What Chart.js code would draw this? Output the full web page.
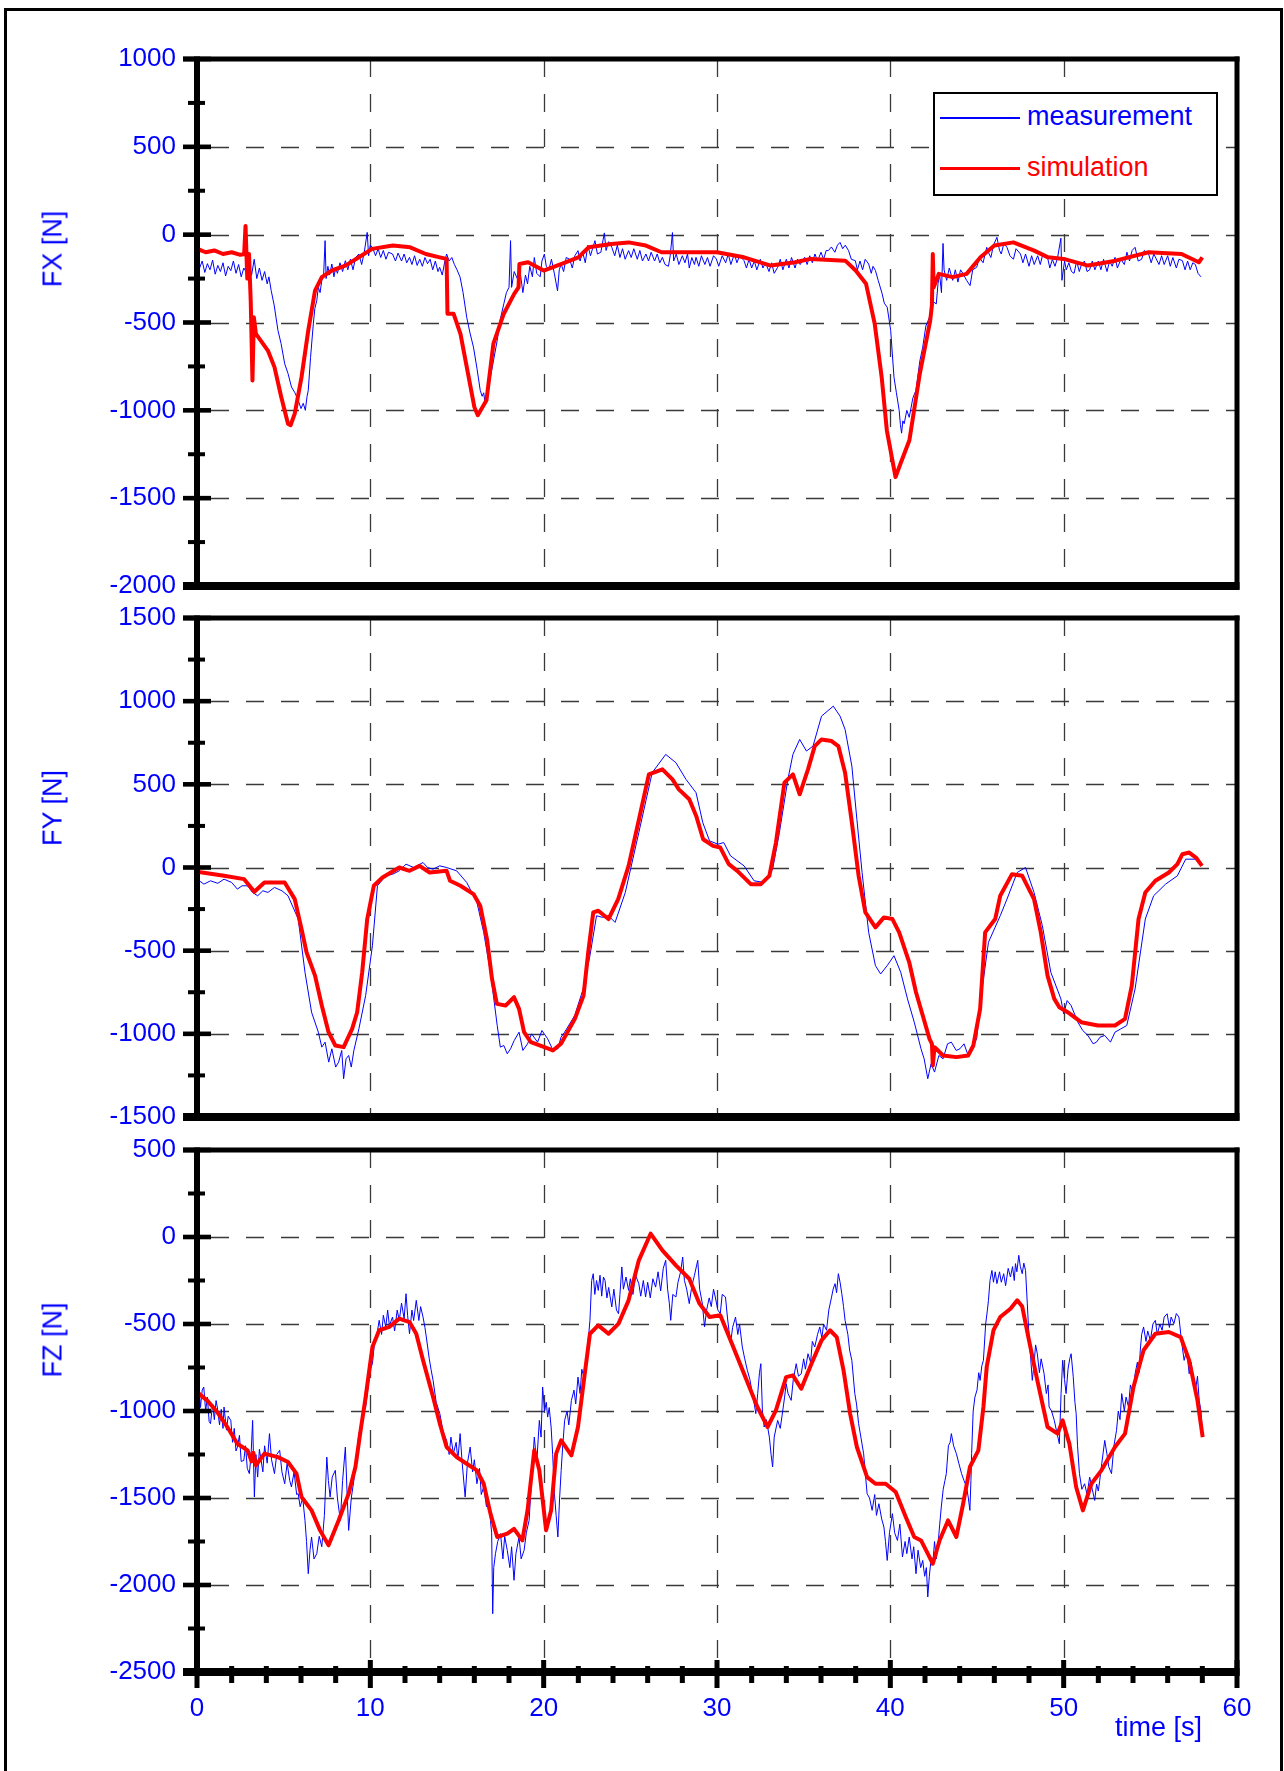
<!DOCTYPE html>
<html>
<head>
<meta charset="utf-8">
<script src="https://cdn.jsdelivr.net/npm/chart.js@4.4.0/dist/chart.umd.min.js"></script>
<style>
  body { margin: 0; background: #fff; width: 1284px; height: 1771px; overflow: hidden; position: relative;
         font-family: 'Liberation Sans', Arial, sans-serif; }
  #frame { position: absolute; left: 4px; top: 8px; width: 1273px; height: 1800px; border: 3px solid #000; }
  canvas { position: absolute; left: 0; }
  .ytitle { position: absolute; color: #00f; font-size: 27px; white-space: nowrap;
            transform: translate(-50%, -50%) rotate(-90deg); }
  #xtitle { position: absolute; left: 1115px; top: 1712px; color: #00f; font-size: 27px; white-space: nowrap; }
  #legend { position: absolute; left: 933px; top: 92px; width: 281px; height: 100px; border: 2px solid #000; background: #fff; }
  #legend .sw { position: absolute; left: 5px; width: 80px; }
  #legend .lbl { position: absolute; left: 92px; font-size: 27px; line-height: 30px; white-space: nowrap; }
</style>
</head>
<body>
<div id="frame"></div>
<canvas id="fx" width="1284" height="607" style="top:19px"></canvas>
<canvas id="fy" width="1284" height="579" style="top:578px"></canvas>
<canvas id="fz" width="1284" height="661" style="top:1110px"></canvas>
<div class="ytitle" style="left:53px;top:249px">FX [N]</div>
<div class="ytitle" style="left:53px;top:808px">FY [N]</div>
<div class="ytitle" style="left:53px;top:1340px">FZ [N]</div>
<div id="xtitle">time [s]</div>
<div id="legend">
  <div class="sw" style="top:23px;height:1.5px;background:#00f"></div>
  <div class="lbl" style="top:7px;color:#00f">measurement</div>
  <div class="sw" style="top:73px;height:3px;background:#f00"></div>
  <div class="lbl" style="top:58px;color:#f00">simulation</div>
</div>
<script>
// tiempo [s], fuerza [N]
const timeTicks = [0, 10, 20, 30, 40, 50, 60];
const minorTimeStep = 2;

const fxMeas = [
  [0,-130],[0.15,-190],[0.3,-150],[0.45,-215],[0.6,-165],[0.75,-200],[0.9,-145],[1.05,-225],[1.2,-175],[1.35,-210],
  [1.5,-160],[1.65,-235],[1.8,-180],[1.95,-205],[2.1,-150],[2.25,-220],[2.4,-170],[2.55,-240],[2.7,-190],[2.85,-215],
  [3.0,-160],[3.15,-230],[3.3,-140],[3.45,-250],[3.6,-190],[3.75,-260],[3.9,-210],[4.05,-280],[4.15,-240],[4.28,-318],
  [4.45,-400],[4.67,-545],[4.85,-620],[5.06,-735],[5.25,-790],[5.45,-867],[5.65,-900],[5.84,-943],[6.0,-990],[6.13,-960],
  [6.25,-1000],[6.35,-920],[6.42,-886],[6.55,-700],[6.71,-508],[6.8,-420],[6.91,-375],[7.0,-300],[7.1,-330],[7.2,-260],
  [7.3,-242],[7.39,-34],[7.45,-250],[7.55,-180],[7.65,-230],[7.78,-167],[7.9,-240],[8.0,-190],[8.1,-220],[8.25,-160],
  [8.4,-210],[8.56,-148],[8.7,-200],[8.85,-140],[9.0,-200],[9.15,-130],[9.34,-110],[9.5,-170],[9.65,-100],[9.82,13],
  [9.9,-120],[10.0,-60],[10.12,-72],[10.3,-120],[10.45,-80],[10.6,-130],[10.75,-90],[10.9,-140],[11.05,-100],[11.28,-110],
  [11.45,-150],[11.6,-105],[11.8,-150],[11.95,-110],[12.1,-160],[12.26,-129],[12.4,-170],[12.55,-120],[12.7,-175],[12.85,-140],
  [13.0,-180],[13.15,-130],[13.3,-165],[13.45,-140],[13.6,-200],[13.75,-150],[13.9,-210],[14.0,-186],[14.15,-230],[14.3,-150],
  [14.4,-110],[14.55,-150],[14.7,-130],[14.85,-170],[15.0,-200],[15.18,-242],[15.35,-330],[15.56,-470],[15.75,-560],[15.95,-640],
  [16.15,-760],[16.34,-886],[16.45,-920],[16.54,-900],[16.62,-960],[16.7,-943],[16.8,-900],[16.93,-811],[17.1,-720],[17.32,-602],
  [17.5,-480],[17.7,-394],[17.85,-330],[18.0,-300],[18.09,-34],[18.15,-300],[18.3,-210],[18.48,-250],[18.6,-180],[18.8,-330],
  [18.95,-230],[19.07,-280],[19.2,-180],[19.35,-240],[19.46,-130],[19.6,-220],[19.8,-240],[19.9,-150],[20.04,-110],[20.15,-180],
  [20.3,-200],[20.45,-140],[20.62,-223],[20.8,-320],[20.9,-200],[21.01,-167],[21.15,-210],[21.3,-130],[21.5,-140],[21.65,-190],
  [21.8,-120],[21.98,-91],[22.1,-150],[22.25,-100],[22.4,-160],[22.55,-60],[22.7,-120],[22.85,-70],[22.96,-34],[23.1,-110],
  [23.3,-100],[23.5,10],[23.6,-90],[23.75,-40],[23.93,-72],[24.1,-120],[24.25,-60],[24.4,-130],[24.55,-80],[24.7,-140],
  [24.9,-91],[25.05,-130],[25.2,-80],[25.4,-140],[25.55,-90],[25.7,-150],[25.9,-110],[26.05,-150],[26.2,-100],[26.4,-150],
  [26.55,-110],[26.7,-160],[26.85,-129],[27.0,-170],[27.2,-180],[27.3,-120],[27.43,12],[27.5,-150],[27.65,-110],[27.8,-170],
  [28.0,-120],[28.15,-160],[28.3,-110],[28.4,-190],[28.55,-130],[28.7,-170],[28.79,-129],[28.95,-180],[29.1,-120],[29.3,-170],
  [29.45,-130],[29.6,-180],[29.8,-120],[29.96,-138],[30.1,-180],[30.3,-120],[30.5,-160],[30.65,-110],[30.8,-170],[31.0,-110],
  [31.15,-160],[31.3,-120],[31.56,-148],[31.7,-190],[31.85,-140],[32.0,-190],[32.15,-150],[32.3,-200],[32.5,-140],[32.65,-190],
  [32.8,-160],[33.0,-210],[33.15,-160],[33.3,-220],[33.5,-186],[33.65,-140],[33.8,-200],[34.0,-140],[34.15,-190],[34.3,-130],
  [34.5,-190],[34.65,-140],[34.8,-170],[35.06,-129],[35.2,-170],[35.35,-120],[35.5,-160],[35.65,-110],[35.8,-150],[36.0,-100],
  [36.15,-140],[36.3,-90],[36.42,-91],[36.6,-70],[36.8,-100],[36.95,-60],[37.1,-44],[37.25,-80],[37.4,-60],[37.59,-91],
  [37.75,-140],[37.98,-148],[38.1,-200],[38.25,-150],[38.4,-200],[38.55,-140],[38.75,-167],[38.9,-220],[39.0,-180],[39.14,-204],
  [39.3,-260],[39.53,-337],[39.65,-390],[39.82,-413],[40.02,-545],[40.21,-811],[40.35,-900],[40.51,-1000],[40.58,-1080],[40.65,-1130],
  [40.72,-1060],[40.8,-1076],[40.95,-1000],[41.09,-1040],[41.3,-930],[41.48,-886],[41.7,-720],[41.87,-640],[42.05,-520],[42.26,-470],
  [42.45,-380],[42.65,-394],[42.75,-280],[42.84,-223],[42.95,-330],[43.04,-50],[43.1,-200],[43.25,-260],[43.4,-190],[43.6,-260],
  [43.75,-200],[43.9,-270],[44.05,-200],[44.2,-223],[44.4,-260],[44.6,-290],[44.75,-200],[44.98,-186],[45.15,-130],[45.35,-160],
  [45.56,-72],[45.7,-110],[45.8,-130],[45.95,-60],[46.15,-15],[46.3,-90],[46.4,-110],[46.55,-50],[46.73,-72],[46.9,-120],
  [47.1,-140],[47.25,-80],[47.51,-110],[47.65,-160],[47.8,-110],[48.0,-180],[48.15,-120],[48.3,-170],[48.5,-120],[48.65,-170],
  [48.8,-110],[49.07,-129],[49.2,-190],[49.35,-140],[49.5,-180],[49.65,-130],[49.84,-20],[49.9,-260],[50.05,-150],[50.15,-200],
  [50.3,-160],[50.45,-210],[50.6,-220],[50.75,-150],[50.9,-210],[51.01,-176],[51.2,-150],[51.35,-210],[51.5,-200],[51.65,-150],
  [51.8,-200],[52.0,-150],[52.15,-200],[52.3,-140],[52.5,-210],[52.65,-150],[52.8,-180],[52.96,-129],[53.1,-190],[53.3,-140],
  [53.5,-170],[53.65,-100],[53.8,-150],[53.95,-90],[54.12,-72],[54.3,-150],[54.5,-140],[54.65,-90],[54.9,-110],[55.05,-160],
  [55.2,-110],[55.5,-170],[55.65,-120],[55.8,-170],[56.0,-120],[56.15,-180],[56.3,-130],[56.5,-190],[56.65,-140],[56.85,-148],
  [57.0,-200],[57.15,-150],[57.3,-200],[57.45,-160],[57.6,-170],[57.75,-220],[57.92,-240]
];
const fxSim = [
  [0,-80],[0.5,-100],[1.0,-90],[1.5,-110],[2.0,-100],[2.5,-115],[2.72,-110],[2.8,50],[2.9,-250],[3.0,-110],
  [3.1,-380],[3.2,-830],[3.28,-470],[3.4,-565],[4.09,-660],[4.47,-754],[4.86,-924],[5.25,-1076],[5.4,-1085],[5.64,-1019],
  [6.03,-811],[6.42,-545],[6.81,-318],[7.2,-242],[7.78,-204],[8.56,-176],[9.34,-129],[10.1,-81],[11.3,-62],[12.3,-72],
  [13.2,-110],[14.0,-129],[14.4,-138],[14.45,-450],[14.8,-450],[15.2,-565],[15.6,-773],[16.0,-981],[16.2,-1028],[16.7,-943],
  [17.1,-621],[17.7,-450],[18.3,-337],[18.55,-300],[18.6,-167],[19.1,-157],[20.0,-204],[21.0,-167],[22.0,-129],[22.6,-72],
  [23.9,-53],[24.9,-44],[25.9,-62],[26.8,-100],[28.8,-100],[30,-100],[31.56,-129],[33.1,-176],[34.5,-157],[35.4,-138],
  [37.4,-148],[38.0,-204],[38.6,-280],[39.1,-508],[39.5,-811],[39.8,-1115],[40.3,-1380],[40.6,-1300],[41.1,-1170],[41.7,-792],
  [42.3,-489],[42.4,-400],[42.45,-110],[42.5,-300],[42.8,-223],[43.6,-242],[44.4,-223],[45.2,-129],[46.0,-62],[47.1,-44],
  [48.3,-91],[49.1,-129],[50.0,-138],[51.4,-176],[53.0,-148],[54.9,-100],[56.8,-110],[57.8,-157],[58.0,-129]
];

const fyMeas = [
  [0,-70],[0.4,-100],[0.78,-80],[1.2,-95],[1.56,-70],[2.0,-90],[2.33,-130],[2.6,-110],[2.92,-110],[3.2,-150],
  [3.5,-170],[3.8,-140],[4.09,-150],[4.47,-120],[4.9,-140],[5.25,-170],[5.84,-310],[6.23,-630],[6.61,-870],[7.0,-990],
  [7.2,-1080],[7.39,-1050],[7.6,-1170],[7.78,-1090],[8.0,-1200],[8.17,-1170],[8.35,-1100],[8.46,-1270],[8.6,-1150],[8.75,-1130],
  [8.9,-1200],[9.05,-1100],[9.34,-970],[9.73,-770],[10.12,-470],[10.41,-110],[10.89,-50],[11.3,-40],[11.67,-20],[12.06,20],
  [12.5,0],[13.04,30],[13.3,0],[13.62,-10],[14.0,10],[14.4,0],[14.98,-20],[15.56,-90],[16.15,-210],[16.54,-390],
  [16.93,-630],[17.32,-950],[17.5,-1080],[17.7,-1070],[17.9,-1120],[18.09,-1090],[18.3,-1040],[18.58,-990],[18.8,-1100],[19.07,-1060],
  [19.3,-1000],[19.65,-1050],[19.9,-980],[20.23,-1030],[20.5,-1090],[20.82,-1090],[21.0,-1020],[21.21,-990],[21.79,-890],[22.28,-730],
  [22.67,-530],[23.05,-290],[23.4,-300],[23.74,-290],[24.12,-330],[24.71,-150],[25.49,210],[26.26,570],[27.04,680],[27.63,630],
  [28.21,530],[28.79,450],[29.18,270],[29.57,160],[30.06,140],[30.39,150],[30.78,70],[31.56,10],[32.14,-80],[32.72,-90],
  [33.21,-10],[33.6,210],[34.09,530],[34.38,680],[34.77,770],[35.16,700],[35.54,730],[36.03,910],[36.71,970],[37.1,910],
  [37.39,830],[37.78,610],[38.07,290],[38.37,-30],[38.75,-390],[39.14,-590],[39.44,-640],[39.82,-590],[40.21,-530],[40.6,-630],
  [40.99,-790],[41.38,-930],[41.77,-1090],[41.95,-1150],[42.16,-1270],[42.35,-1180],[42.55,-1230],[42.8,-1130],[43.04,-1150],[43.3,-1060],
  [43.52,-1050],[43.8,-1100],[44.01,-1090],[44.25,-1060],[44.49,-1130],[44.98,-1030],[45.27,-750],[45.66,-450],[46.34,-290],[46.73,-190],
  [47.32,-30],[47.8,0],[48.29,-150],[48.77,-350],[49.26,-630],[49.84,-790],[50.0,-880],[50.2,-800],[50.43,-830],[50.82,-930],
  [51.1,-980],[51.4,-1010],[51.7,-1060],[51.89,-1050],[52.1,-1020],[52.37,-1010],[52.7,-1050],[52.96,-990],[53.3,-970],[53.64,-950],
  [54.12,-730],[54.71,-310],[55.19,-170],[55.88,-100],[56.56,-50],[57.04,50],[57.63,50],[57.98,10]
];
const fySim = [
  [0,-26],[1.56,-50],[2.72,-70],[3.31,-146],[3.89,-90],[5.06,-90],[5.64,-190],[6.03,-370],[6.32,-510],[6.81,-650],
  [7.2,-830],[7.59,-990],[7.98,-1070],[8.46,-1080],[8.95,-970],[9.24,-870],[9.53,-630],[9.82,-310],[10.2,-110],[10.7,-60],
  [11.67,0],[12.26,-20],[12.84,10],[13.42,-30],[14.4,-20],[14.6,-80],[15.2,-110],[15.95,-160],[16.34,-230],[16.73,-430],
  [17.02,-670],[17.3,-820],[17.8,-830],[18.29,-780],[18.58,-850],[18.87,-990],[19.26,-1050],[20.04,-1080],[20.53,-1100],[21.0,-1060],
  [21.8,-910],[22.3,-770],[22.57,-510],[22.86,-270],[23.15,-260],[23.74,-310],[24.3,-190],[24.9,10],[25.5,290],[26.07,560],
  [26.85,590],[27.43,530],[27.8,470],[28.4,410],[28.8,310],[29.2,170],[29.77,130],[30.19,120],[30.68,20],[31.17,-20],
  [31.95,-100],[32.53,-100],[33.02,-50],[33.4,150],[33.89,510],[34.38,560],[34.77,440],[35.25,590],[35.64,730],[36.03,770],
  [36.61,760],[37.0,730],[37.39,570],[37.78,270],[38.17,-50],[38.56,-270],[39.14,-360],[39.63,-300],[40.12,-310],[40.51,-390],
  [41.09,-570],[41.48,-750],[41.87,-890],[42.26,-1030],[42.4,-1060],[42.45,-1190],[42.55,-1080],[42.65,-1090],[43.04,-1130],[43.81,-1140],
  [44.49,-1130],[44.79,-1070],[45.18,-850],[45.47,-390],[46.05,-310],[46.34,-170],[47.02,-40],[47.61,-50],[48.29,-190],[48.68,-390],
  [49.07,-650],[49.46,-790],[49.75,-840],[50.23,-870],[51.01,-930],[51.98,-950],[52.96,-950],[53.54,-910],[53.93,-710],[54.32,-310],
  [54.71,-150],[55.29,-80],[56.07,-30],[56.56,20],[56.85,80],[57.24,90],[57.63,60],[57.98,10]
];

const fzMeas = [
  [0,-747],[0.05,-950],[0.1,-850],[0.2,-980],[0.3,-880],[0.39,-862],[0.5,-1000],[0.6,-920],[0.7,-1060],[0.78,-1073],
  [0.9,-960],[1.0,-1050],[1.1,-940],[1.17,-977],[1.3,-1080],[1.4,-990],[1.5,-1100],[1.56,-977],[1.7,-1110],[1.8,-1030],
  [1.95,-1054],[2.05,-1180],[2.15,-1100],[2.25,-1230],[2.33,-1207],[2.45,-1140],[2.55,-1290],[2.7,-1284],[2.8,-1200],[2.9,-1330],
  [3.02,-1360],[3.12,-1250],[3.21,-1054],[3.31,-1494],[3.4,-1250],[3.5,-1380],[3.6,-1220],[3.7,-1284],[3.8,-1350],[3.9,-1200],
  [4.05,-1300],[4.18,-1130],[4.3,-1280],[4.47,-1360],[4.6,-1250],[4.77,-1226],[4.9,-1350],[5.06,-1418],[5.2,-1300],[5.35,-1400],
  [5.45,-1437],[5.6,-1350],[5.75,-1480],[5.84,-1475],[5.95,-1550],[6.1,-1500],[6.23,-1629],[6.32,-1750],[6.42,-1935],[6.52,-1800],
  [6.61,-1724],[6.75,-1850],[6.91,-1820],[7.05,-1720],[7.2,-1780],[7.35,-1600],[7.49,-1265],[7.58,-1400],[7.68,-1494],[7.8,-1380],
  [7.98,-1341],[8.1,-1500],[8.27,-1629],[8.4,-1400],[8.56,-1207],[8.65,-1450],[8.75,-1686],[8.9,-1500],[9.05,-1399],[9.2,-1250],
  [9.34,-1130],[9.5,-1080],[9.6,-1000],[9.73,-977],[9.85,-880],[10.0,-760],[10.12,-728],[10.25,-600],[10.38,-560],[10.51,-479],
  [10.65,-560],[10.75,-450],[10.89,-517],[11.0,-420],[11.1,-510],[11.28,-460],[11.4,-540],[11.55,-420],[11.67,-480],[11.8,-380],
  [11.95,-470],[12.06,-326],[12.15,-450],[12.26,-556],[12.4,-420],[12.5,-480],[12.65,-364],[12.8,-480],[12.9,-400],[13.04,-460],
  [13.15,-520],[13.23,-575],[13.4,-700],[13.5,-760],[13.62,-824],[13.8,-950],[14.01,-1015],[14.2,-1120],[14.4,-1169],[14.55,-1250],
  [14.65,-1150],[14.79,-1245],[14.95,-1180],[15.05,-1280],[15.18,-1130],[15.3,-1300],[15.47,-1494],[15.6,-1300],[15.76,-1207],[15.9,-1350],
  [16.0,-1280],[16.15,-1418],[16.3,-1330],[16.4,-1480],[16.54,-1437],[16.7,-1550],[16.8,-1500],[16.93,-1629],[17.0,-1700],[17.06,-2165],
  [17.12,-1900],[17.22,-1820],[17.35,-1750],[17.51,-1705],[17.65,-1850],[17.75,-1720],[17.9,-1801],[18.05,-1900],[18.15,-1780],[18.29,-1973],
  [18.4,-1820],[18.58,-1724],[18.7,-1850],[18.87,-1801],[19.0,-1700],[19.16,-1629],[19.3,-1400],[19.46,-1150],[19.6,-1300],[19.75,-1054],
  [19.85,-1150],[19.94,-862],[20.05,-1000],[20.15,-950],[20.23,-1035],[20.32,-980],[20.43,-1092],[20.52,-1250],[20.62,-1475],[20.72,-1600],
  [20.82,-1724],[20.92,-1500],[21.01,-1341],[21.1,-1200],[21.21,-1054],[21.35,-1000],[21.45,-1080],[21.6,-939],[21.75,-880],[21.85,-960],
  [21.98,-805],[22.1,-900],[22.2,-760],[22.37,-824],[22.5,-650],[22.6,-560],[22.67,-479],[22.77,-250],[22.86,-211],[22.95,-330],
  [23.05,-250],[23.15,-307],[23.25,-220],[23.35,-340],[23.45,-230],[23.54,-250],[23.65,-350],[23.75,-290],[23.93,-402],[24.05,-300],
  [24.2,-420],[24.32,-441],[24.4,-330],[24.51,-172],[24.6,-300],[24.75,-230],[24.9,-307],[25.0,-240],[25.15,-330],[25.3,-220],
  [25.49,-268],[25.6,-340],[25.75,-250],[25.88,-345],[26.0,-260],[26.15,-350],[26.3,-240],[26.46,-288],[26.6,-200],[26.75,-310],
  [26.9,-180],[27.04,-134],[27.15,-300],[27.25,-380],[27.33,-479],[27.45,-330],[27.63,-345],[27.75,-260],[27.9,-200],[28.02,-115],
  [28.12,-250],[28.25,-300],[28.4,-383],[28.55,-280],[28.7,-220],[28.89,-134],[29.0,-300],[29.15,-380],[29.28,-517],[29.4,-420],
  [29.55,-350],[29.67,-400],[29.8,-300],[29.9,-345],[30.05,-420],[30.19,-440],[30.3,-330],[30.49,-345],[30.6,-460],[30.78,-613],
  [30.9,-520],[31.07,-460],[31.2,-560],[31.3,-500],[31.46,-632],[31.6,-700],[31.75,-766],[31.9,-820],[32.04,-900],[32.15,-960],
  [32.24,-1015],[32.35,-900],[32.45,-780],[32.53,-728],[32.62,-1000],[32.72,-1092],[32.85,-1050],[33.02,-1150],[33.12,-1250],[33.21,-1322],
  [33.3,-1150],[33.5,-1054],[33.65,-1100],[33.79,-1000],[33.9,-920],[33.99,-843],[34.1,-900],[34.28,-939],[34.4,-820],[34.57,-728],
  [34.7,-800],[34.86,-786],[35.0,-700],[35.1,-760],[35.25,-671],[35.4,-720],[35.5,-600],[35.64,-632],[35.8,-560],[35.93,-517],
  [36.05,-580],[36.15,-500],[36.32,-536],[36.45,-420],[36.6,-350],[36.7,-300],[36.81,-268],[36.9,-320],[37.0,-211],[37.1,-260],
  [37.2,-326],[37.3,-400],[37.39,-479],[37.55,-560],[37.65,-650],[37.78,-709],[37.95,-900],[38.05,-960],[38.17,-1073],[38.3,-1150],
  [38.46,-1245],[38.55,-1350],[38.66,-1475],[38.8,-1500],[38.95,-1571],[39.1,-1480],[39.2,-1600],[39.34,-1533],[39.5,-1620],[39.63,-1667],
  [39.72,-1750],[39.82,-1859],[39.95,-1700],[40.12,-1590],[40.25,-1700],[40.41,-1744],[40.55,-1650],[40.7,-1839],[40.85,-1750],[40.95,-1820],
  [41.09,-1724],[41.25,-1850],[41.35,-1780],[41.48,-1935],[41.6,-1800],[41.75,-1900],[41.87,-1859],[41.98,-1950],[42.08,-1900],[42.16,-2069],
  [42.25,-1950],[42.35,-1850],[42.45,-1878],[42.55,-1750],[42.65,-1850],[42.74,-1782],[42.85,-1650],[42.94,-1552],[43.05,-1450],[43.15,-1400],
  [43.23,-1360],[43.35,-1200],[43.45,-1180],[43.52,-1130],[43.65,-1200],[43.81,-1245],[43.95,-1300],[44.11,-1360],[44.25,-1400],[44.4,-1437],
  [44.5,-1500],[44.59,-1571],[44.65,-1400],[44.69,-1245],[44.78,-1000],[44.88,-920],[45.0,-880],[45.1,-780],[45.18,-824],[45.28,-740],
  [45.37,-709],[45.5,-500],[45.6,-420],[45.66,-364],[45.75,-250],[45.86,-192],[45.95,-260],[46.05,-200],[46.15,-268],[46.3,-200],
  [46.4,-260],[46.54,-211],[46.65,-280],[46.8,-180],[46.93,-230],[47.05,-170],[47.15,-250],[47.22,-153],[47.3,-200],[47.41,-105],
  [47.5,-170],[47.61,-211],[47.7,-150],[47.8,-192],[47.9,-380],[48.0,-575],[48.1,-700],[48.19,-824],[48.3,-720],[48.38,-620],
  [48.48,-671],[48.6,-780],[48.7,-700],[48.87,-786],[49.0,-900],[49.1,-850],[49.16,-977],[49.3,-1000],[49.46,-1054],[49.6,-1120],
  [49.75,-1188],[49.85,-900],[49.94,-709],[50.05,-820],[50.14,-900],[50.25,-760],[50.35,-700],[50.43,-671],[50.55,-800],[50.65,-950],
  [50.72,-1015],[50.8,-1200],[50.91,-1360],[51.05,-1450],[51.21,-1418],[51.35,-1480],[51.5,-1380],[51.65,-1450],[51.79,-1514],[51.9,-1420],
  [52.0,-1460],[52.08,-1400],[52.2,-1300],[52.37,-1169],[52.5,-1250],[52.6,-1320],[52.76,-1360],[52.9,-1200],[53.05,-1111],[53.15,-1000],
  [53.25,-1050],[53.35,-900],[53.5,-1000],[53.6,-920],[53.74,-977],[53.85,-850],[54.0,-900],[54.12,-786],[54.25,-720],[54.35,-780],
  [54.42,-650],[54.5,-560],[54.61,-517],[54.75,-600],[54.85,-540],[55.0,-594],[55.15,-500],[55.29,-479],[55.4,-560],[55.55,-500],
  [55.68,-536],[55.8,-460],[55.97,-441],[56.1,-520],[56.2,-460],[56.36,-498],[56.5,-440],[56.65,-460],[56.8,-600],[56.95,-709],
  [57.1,-650],[57.24,-786],[57.35,-720],[57.5,-820],[57.63,-862],[57.72,-800],[57.82,-939],[57.92,-1000],[58.02,-1150]
];
const fzSim = [
  [0,-891],[0.58,-939],[1.17,-1006],[1.75,-1092],[2.33,-1188],[2.92,-1226],[3.15,-1290],[3.25,-1240],[3.4,-1312],[3.89,-1245],
  [4.67,-1265],[5.25,-1293],[5.74,-1360],[6.03,-1494],[6.61,-1571],[7.1,-1686],[7.59,-1772],[8.17,-1629],[8.75,-1475],[9.14,-1322],
  [9.44,-1111],[9.73,-920],[10.12,-632],[10.51,-536],[11.09,-517],[11.67,-469],[12.26,-489],[12.65,-556],[13.04,-709],[13.62,-920],
  [14.01,-1073],[14.4,-1207],[14.98,-1265],[15.56,-1303],[16.15,-1341],[16.54,-1418],[16.93,-1590],[17.32,-1724],[17.9,-1705],[18.29,-1677],
  [18.77,-1744],[19.07,-1571],[19.46,-1226],[19.75,-1341],[20.14,-1686],[20.43,-1571],[20.72,-1245],[21.01,-1169],[21.6,-1255],[21.98,-1092],
  [22.37,-786],[22.67,-556],[23.15,-508],[23.74,-556],[24.32,-498],[24.9,-364],[25.49,-134],[26.17,19],[26.85,-77],[27.63,-163],
  [28.4,-240],[28.99,-383],[29.57,-460],[30.19,-450],[30.78,-594],[31.56,-786],[32.33,-977],[32.92,-1092],[33.4,-996],[33.99,-805],
  [34.38,-795],[34.86,-872],[35.45,-728],[36.03,-594],[36.52,-536],[36.91,-575],[37.3,-766],[37.68,-1015],[38.07,-1207],[38.66,-1380],
  [39.14,-1418],[39.73,-1418],[40.31,-1466],[40.89,-1609],[41.38,-1724],[41.77,-1744],[42.16,-1820],[42.45,-1878],[42.84,-1744],[43.33,-1629],
  [43.81,-1724],[44.2,-1533],[44.59,-1322],[45.08,-1226],[45.37,-977],[45.56,-747],[45.95,-536],[46.34,-460],[46.93,-412],[47.32,-364],
  [47.61,-400],[48.0,-594],[48.48,-824],[49.07,-1092],[49.65,-1130],[49.94,-1054],[50.33,-1188],[50.72,-1437],[51.11,-1571],[51.6,-1418],
  [52.18,-1341],[52.96,-1207],[53.54,-1130],[54.03,-862],[54.61,-651],[55.29,-556],[56.07,-546],[56.75,-575],[57.24,-709],[57.72,-939],
  [58.02,-1150]
];

const BLUE = '#0000ff';
const RED = '#ff0000';
const FONT = { family: "'Liberation Sans', Arial, sans-serif", size: 26 };

// Marco grueso, marcas de eje y rejilla discontinua
const panelFrame = {
  id: 'panelFrame',
  beforeDatasetsDraw(chart) {
    const { ctx, chartArea: a, scales: { x, y } } = chart;
    ctx.save();
    ctx.strokeStyle = '#3a3a3a';
    ctx.lineWidth = 1.3;
    ctx.setLineDash([18, 17]);
    timeTicks.forEach(t => {
      if (t === x.min || t === x.max) return;
      const px = Math.round(x.getPixelForValue(t)) + 0.5;
      ctx.beginPath(); ctx.moveTo(px, a.top); ctx.lineTo(px, a.bottom); ctx.stroke();
    });
    y.ticks.forEach(tk => {
      if (tk.value === y.min || tk.value === y.max) return;
      const py = Math.round(y.getPixelForValue(tk.value)) + 0.5;
      ctx.beginPath(); ctx.moveTo(a.left + 14, py); ctx.lineTo(a.right, py); ctx.stroke();
    });
    ctx.restore();
  },
  afterDraw(chart, args, opts) {
    const { ctx, chartArea: a, scales: { x, y } } = chart;
    ctx.save();
    ctx.fillStyle = '#000';
    ctx.fillRect(a.left - 3, a.top - 2.5, 6, a.bottom - a.top + 6);
    ctx.fillRect(a.left - 14, a.top - 2.5, a.right - a.left + 16.5, 5);
    ctx.fillRect(a.right - 2.5, a.top - 2.5, 5, a.bottom - a.top + 6);
    ctx.fillRect(a.left - 14, a.bottom - 4, a.right - a.left + 16.5, 8);
    y.ticks.forEach(tk => {
      const py = y.getPixelForValue(tk.value);
      ctx.fillRect(a.left - 14, py - 2.3, 28, 4.6);
    });
    for (let v = y.min + 250; v < y.max; v += 500) {
      const py = y.getPixelForValue(v);
      ctx.fillRect(a.left - 9, py - 2, 17, 4);
    }
    if (opts.timeTicks) {
      for (let t = x.min; t <= x.max; t += minorTimeStep) {
        const px = x.getPixelForValue(t);
        if (t % 10 === 0) ctx.fillRect(px - 2.5, a.bottom - 12, 5, 28);
        else ctx.fillRect(px - 2.5, a.bottom - 6, 5, 17);
      }
    }
    ctx.restore();
  }
};

function makePanel(canvasId, meas, sim, yMin, yMax, showTime) {
  const canvas = document.getElementById(canvasId);
  return new Chart(canvas, {
    type: 'line',
    data: {
      datasets: [
        {
          label: 'measurement',
          data: meas.map(([t, v]) => ({ x: t, y: v })),
          borderColor: BLUE,
          borderWidth: 1,
          pointRadius: 0,
          tension: 0,
          order: 1,
        },
        {
          label: 'simulation',
          data: sim.map(([t, v]) => ({ x: t, y: v })),
          borderColor: RED,
          borderWidth: 4,
          pointRadius: 0,
          tension: 0,
          borderJoinStyle: 'round',
          order: 0,
        },
      ],
    },
    options: {
      responsive: false,
      animation: false,
      devicePixelRatio: 1,
      // margen generoso: el eje Y suma la mitad de la etiqueta + padding
      layout: { padding: { left: 0, right: 47, top: 40, bottom: showTime ? 0 : 40 } },
      plugins: {
        legend: { display: false },
        tooltip: { enabled: false },
        panelFrame: { timeTicks: showTime },
      },
      scales: {
        x: {
          type: 'linear',
          min: 0,
          max: 60,
          grid: { display: false, drawTicks: false },
          border: { display: false },
          ticks: {
            display: showTime,
            stepSize: 10,
            autoSkip: false,
            maxRotation: 0,
            padding: 21,
            color: BLUE,
            font: FONT,
          },
          afterFit: (s) => { s.height = showTime ? 99 : 0; },
        },
        y: {
          min: yMin,
          max: yMax,
          grid: { display: false, drawTicks: false },
          border: { display: false },
          ticks: {
            stepSize: 500,
            padding: 21,
            color: BLUE,
            font: FONT,
            callback: (v) => String(v),
          },
          afterFit: (s) => { s.width = 197; },
        },
      },
    },
    plugins: [panelFrame],
  });
}

makePanel('fx', fxMeas, fxSim, -2000, 1000, false);
makePanel('fy', fyMeas, fySim, -1500, 1500, false);
makePanel('fz', fzMeas, fzSim, -2500, 500, true);
</script>
</body>
</html>
